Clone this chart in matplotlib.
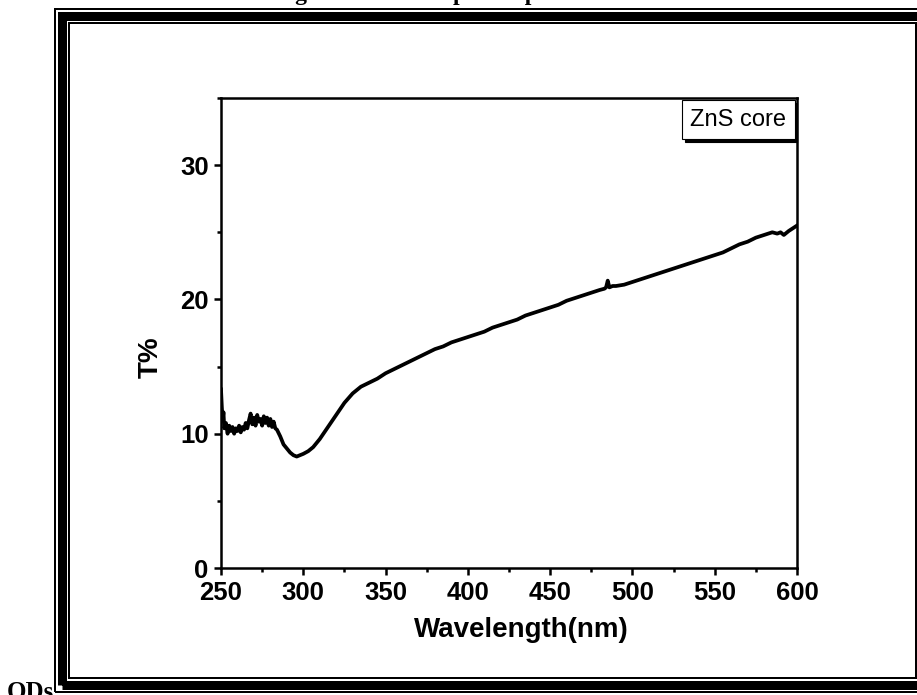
#!/usr/bin/env python3

import numpy as np
import matplotlib.pyplot as plt
from matplotlib.patches import Rectangle
from matplotlib.lines import Line2D

# Data ------------------------------------------------------------------------

wavelength = [250, 250.5, 251, 251.5, 252, 253, 254, 255, 256, 257, 258, 259, 260,
              261, 262, 263, 264, 265, 266, 267, 268, 269, 270, 271, 272, 273,
              274, 275, 276, 277, 278, 279, 280, 281, 282, 283, 284, 286, 288,
              290, 292, 294, 296, 298, 300, 303, 306, 310, 315, 320, 325, 330,
              335, 340, 345, 350, 355, 360, 365, 370, 375, 380, 385, 390, 395,
              400, 405, 410, 415, 420, 425, 430, 435, 440, 445, 450, 455, 460,
              465, 470, 475, 480, 483, 484, 485, 486, 488, 490, 495, 500, 505,
              510, 515, 520, 525, 530, 535, 540, 545, 550, 555, 560, 565, 570,
              575, 580, 585, 588, 590, 592, 595, 600]
transmittance = [13.3, 12.0, 11.0, 11.6, 10.4, 10.8, 10.0, 10.6, 10.2, 10.5, 10.0, 10.4, 10.2,
                 10.6, 10.1, 10.5, 10.3, 10.8, 10.4, 11.0, 11.5, 10.7, 11.2, 10.6, 11.4, 10.9,
                 11.1, 10.6, 11.3, 10.8, 11.2, 10.6, 11.1, 10.5, 10.9, 10.4, 10.3, 9.8, 9.2,
                 8.9, 8.6, 8.4, 8.3, 8.4, 8.5, 8.7, 9.0, 9.6, 10.5, 11.4, 12.3, 13.0,
                 13.5, 13.8, 14.1, 14.5, 14.8, 15.1, 15.4, 15.7, 16.0, 16.3, 16.5, 16.8, 17.0,
                 17.2, 17.4, 17.6, 17.9, 18.1, 18.3, 18.5, 18.8, 19.0, 19.2, 19.4, 19.6, 19.9,
                 20.1, 20.3, 20.5, 20.7, 20.8, 20.9, 21.4, 20.9, 21.0, 21.0, 21.1, 21.3, 21.5,
                 21.7, 21.9, 22.1, 22.3, 22.5, 22.7, 22.9, 23.1, 23.3, 23.5, 23.8, 24.1, 24.3,
                 24.6, 24.8, 25.0, 24.9, 25.0, 24.8, 25.1, 25.5]

legend_label = "ZnS core"
xlabel = "Wavelength(nm)"
ylabel = "T%"
title_text = "Figure 3.11 Absorption Spectra of ZnS"
caption_text = "QDs"

# Figure ------------------------------------------------------------------------

W, H = 917, 695
fig = plt.figure(figsize=(W / 100, H / 100), dpi=100)
plt.rcParams['font.family'] = ['Liberation Sans', 'DejaVu Sans']


def px(x, y):
    # pixel coords (from top-left) to figure fraction
    return x / W, 1 - y / H


def frame(x0, y0, x1, y1, lw_px):
    (fx0, fy0), (fx1, fy1) = px(x0, y1), px(x1, y0)
    fig.patches.append(Rectangle((fx0, fy0), fx1 - fx0, fy1 - fy0, fill=False,
                                 edgecolor='k', linewidth=lw_px * 0.72,
                                 transform=fig.transFigure, figure=fig))


# document page border (thin / thick / thin)
frame(54.5, 8.5, 935, 692, 2)
frame(61.5, 15.5, 928, 684.5, 9)
frame(69, 23, 916, 678, 2)

ax = fig.add_axes([221 / W, 1 - 568 / H, 576 / W, 470 / H])
ax.plot(wavelength, transmittance, color='k', linewidth=2.7)

ax.set_xlim(250, 600)
ax.set_ylim(0, 35)
ax.set_xticks(np.arange(250, 601, 50))
ax.set_xticks(np.arange(275, 600, 50), minor=True)
ax.set_yticks([0, 10, 20, 30])
ax.set_yticks([5, 15, 25, 35], minor=True)

for s in ax.spines.values():
    s.set_linewidth(1.8)
ax.tick_params(which='both', direction='out', width=1.8, top=False, right=False)
ax.tick_params(which='major', length=5, labelsize=18.5, pad=4)
ax.tick_params(which='minor', length=3)
for lab in ax.get_xticklabels() + ax.get_yticklabels():
    lab.set_fontweight('bold')

ax.set_xlabel(xlabel, fontsize=20, fontweight='bold')
ax.set_ylabel(ylabel, fontsize=20, fontweight='bold')
ax.xaxis.set_label_coords(0.521, -0.105)
ax.yaxis.set_label_coords(-0.1, 0.449)

leg = ax.legend(handles=[Line2D([], [], linestyle='none')], labels=[legend_label],
                loc='upper right', borderaxespad=0.1, fancybox=False,
                shadow={'color': 'k', 'alpha': 1}, handlelength=0, handletextpad=0,
                fontsize=17, borderpad=0.35, framealpha=1)
leg.get_frame().set_edgecolor('k')
leg.get_frame().set_linewidth(0.8)

fx, fy = px(468, 0)
fig.text(fx, fy, title_text, ha='center', va='baseline', fontsize=17,
         fontweight='bold', family=['Liberation Serif', 'DejaVu Serif'])
fx, fy = px(7, 699)
fig.text(fx, fy, caption_text, ha='left', va='baseline', fontsize=18,
         fontweight='bold', family=['Liberation Serif', 'DejaVu Serif'])

fig.savefig("out.png", dpi=100)
